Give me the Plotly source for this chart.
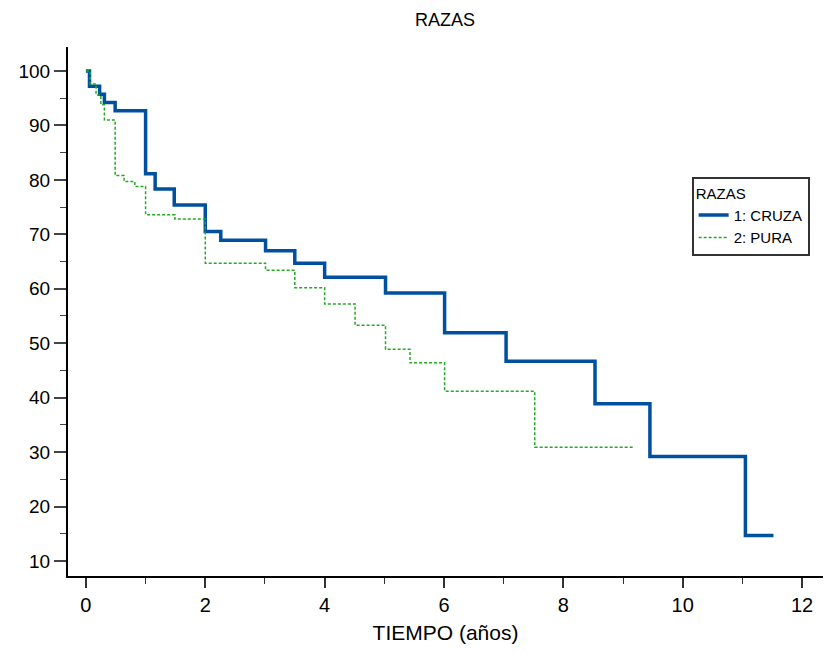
import plotly.graph_objects as go

# Kaplan-Meier style survival steps (time in years, survival %)
cruza_t = [0, 0.06, 0.23, 0.31, 0.49, 1.00, 1.16, 1.48, 2.00, 2.26, 3.01, 3.50, 4.00, 5.02, 6.01, 7.04, 8.53, 9.45, 11.05, 11.52]
cruza_s = [100, 97.2, 95.7, 94.2, 92.7, 81.1, 78.3, 75.4, 70.5, 68.9, 67.0, 64.7, 62.1, 59.2, 51.9, 46.7, 38.9, 29.2, 14.7, 14.7]

pura_t = [0, 0.07, 0.17, 0.25, 0.31, 0.49, 0.64, 0.82, 1.00, 1.49, 2.00, 3.01, 3.50, 4.00, 4.51, 5.02, 5.43, 6.01, 7.52, 9.18]
pura_s = [100, 97.6, 95.6, 93.8, 91.0, 80.8, 79.7, 78.8, 73.6, 72.8, 64.7, 63.4, 60.2, 57.2, 53.3, 48.9, 46.4, 41.2, 30.9, 30.9]

x_ticks = [0, 2, 4, 6, 8, 10, 12]
y_ticks = [10, 20, 30, 40, 50, 60, 70, 80, 90, 100]

narrow = "Liberation Sans Narrow, Arial Narrow, Liberation Sans, Arial, sans-serif"
regular = "Liberation Sans, Arial, sans-serif"

fig = go.Figure()
fig.add_trace(go.Scatter(x=cruza_t, y=cruza_s, mode="lines", line_shape="hv",
                         name="1: CRUZA", line=dict(color="#0050A0", width=3.5)))
fig.add_trace(go.Scatter(x=pura_t, y=pura_s, mode="lines", line_shape="hv",
                         name="2: PURA", line=dict(color="#22AA22", width=1.5, dash="3px,2px")))

fig.update_layout(
    width=824, height=654,
    margin=dict(l=68, r=1, t=47, b=78),
    paper_bgcolor="white", plot_bgcolor="white",
    title=dict(text="RAZAS", x=0.54, xanchor="center", y=0.97, yanchor="middle",
               font=dict(family=regular, size=18, color="black")),
    legend=dict(title=dict(text="RAZAS", font=dict(family=regular, size=15, color="black")),
                x=0.826, y=0.754, xanchor="left", yanchor="top",
                bordercolor="#333333", borderwidth=2, bgcolor="white",
                font=dict(family=regular, size=15, color="black"),
                tracegroupgap=0, itemwidth=30),
    xaxis=dict(range=[-0.30, 12.35], tickvals=x_ticks, ticktext=[str(v) for v in x_ticks],
               showgrid=False, zeroline=False, showline=True, linecolor="black", linewidth=2,
               ticks="outside", ticklen=10, tickwidth=2, tickcolor="#333333",
               minor=dict(dtick=1, tick0=0, ticks="outside", ticklen=6, tickwidth=1, tickcolor="#333333", showgrid=False),
               tickfont=dict(family=narrow, size=20, color="black"),
               title=dict(text="TIEMPO (años)", font=dict(family=narrow, size=21, color="black"), standoff=10)),
    yaxis=dict(range=[7.25, 104.4], tickvals=y_ticks, ticktext=[str(v) for v in y_ticks],
               showgrid=False, zeroline=False, showline=True, linecolor="black", linewidth=2,
               ticks="outside", ticklen=12, tickwidth=2, tickcolor="#444444",
               minor=dict(dtick=5, tick0=5, ticks="outside", ticklen=6, tickwidth=1, tickcolor="#444444", showgrid=False),
               tickfont=dict(family=regular, size=19, color="black")),
)

fig.write_html("out.html")
